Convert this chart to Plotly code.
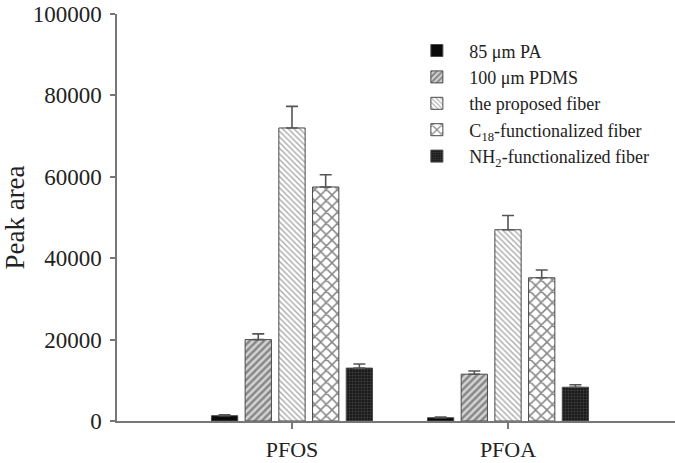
import plotly.graph_objects as go

categories = ["PFOS", "PFOA"]
series_names = ["85 μm PA", "100 μm PDMS", "the proposed fiber",
                "C<sub>18</sub>-functionalized fiber", "NH<sub>2</sub>-functionalized fiber"]
pa_vals = [1300, 800]
pa_err = [200, 150]
pdms_vals = [20000, 11500]
pdms_err = [1400, 800]
proposed_vals = [72000, 47000]
proposed_err = [5300, 3500]
c18_vals = [57500, 35200]
c18_err = [3000, 1900]
nh2_vals = [13000, 8300]
nh2_err = [1000, 600]

values = [pa_vals, pdms_vals, proposed_vals, c18_vals, nh2_vals]
errors = [pa_err, pdms_err, proposed_err, c18_err, nh2_err]

patterns = [
    dict(shape="", bgcolor="#0a0a0a"),
    dict(shape="/", fgcolor="#3a3a3a", bgcolor="#d4d4d4", size=5, solidity=0.5),
    dict(shape="\\", fgcolor="#555555", bgcolor="#ffffff", size=4, solidity=0.35),
    dict(shape="x", fgcolor="#111111", bgcolor="#ffffff", size=8, solidity=0.35),
    dict(shape=".", fgcolor="#666666", bgcolor="#1a1a1a", size=3, solidity=0.35),
]
colors = ["#0a0a0a", "#d4d4d4", "#ffffff", "#ffffff", "#1a1a1a"]

fig = go.Figure()
for name, v, e, p, c in zip(series_names, values, errors, patterns, colors):
    fig.add_trace(go.Bar(
        x=categories, y=v, name=name,
        marker=dict(color=c, pattern=p, line=dict(color="#4a4a4a", width=1)),
        error_y=dict(type="data", array=e, arrayminus=[0] * len(e), symmetric=False,
                     color="#555555", thickness=1.6, width=6),
    ))

font_family = "Liberation Serif"
fig.update_layout(
    width=675, height=463,
    margin=dict(l=117, r=0, t=14, b=42),
    paper_bgcolor="white", plot_bgcolor="white",
    barmode="group", bargap=0.22, bargroupgap=0.22,
    font=dict(family=font_family, color="#222222", size=20),
    legend=dict(x=0.515, y=0.955, xanchor="left", yanchor="top",
                font=dict(family=font_family, size=18, color="#222222"),
                bgcolor="rgba(0,0,0,0)", tracegroupgap=0, itemwidth=55),
    showlegend=True,
)
fig.update_xaxes(
    range=[-0.81, 1.773], showline=True, linecolor="#777777", linewidth=1.5,
    ticks="outside", ticklen=6, tickcolor="#777777", tickwidth=1.5,
    showgrid=False, zeroline=False, automargin=False, ticklabelstandoff=2,
    tickfont=dict(family=font_family, size=22, color="#222222"),
)
fig.update_yaxes(
    range=[0, 100000], tickvals=[0, 20000, 40000, 60000, 80000, 100000],
    ticktext=["0", "20000", "40000", "60000", "80000", "100000"],
    showline=True, linecolor="#777777", linewidth=1.5,
    ticks="outside", ticklen=5, tickcolor="#777777", tickwidth=1.5,
    showgrid=False, zeroline=False, automargin=False, ticklabelstandoff=4,
    tickfont=dict(family=font_family, size=23, color="#222222"),
    title=dict(text="Peak area", font=dict(family=font_family, size=27, color="#222222"), standoff=2),
)
fig.write_html("out.html", config={"displayModeBar": False},
               post_script="document.body.style.margin='0';")
